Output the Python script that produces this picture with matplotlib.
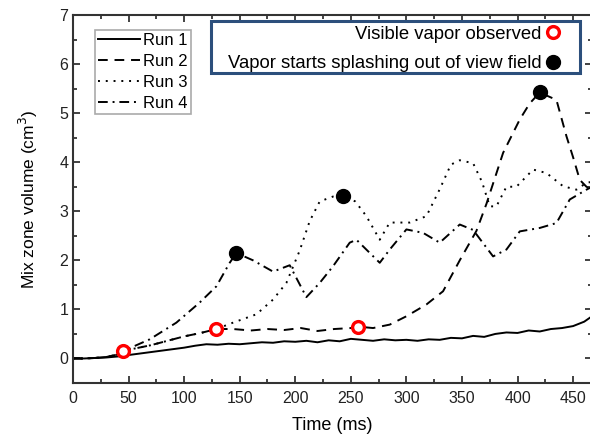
import matplotlib
matplotlib.use('Agg')
import matplotlib.pyplot as plt
from matplotlib.lines import Line2D
from matplotlib.patches import Rectangle
from matplotlib.ticker import MultipleLocator

plt.rcParams['font.family'] = ['Liberation Sans', 'DejaVu Sans']

# Run 1 (solid)
t1 = [0, 10, 20, 30, 40, 50, 60, 70, 80, 90, 100, 110, 120, 130, 140, 150, 160,
      170, 180, 190, 200, 210, 220, 230, 240, 250, 260, 270, 280, 290, 300, 310,
      320, 330, 340, 350, 360, 370, 380, 390, 400, 410, 420, 430, 440, 450, 460, 467]
v1 = [0, 0, 0.01, 0.02, 0.04, 0.07, 0.1, 0.13, 0.16, 0.19, 0.22, 0.26, 0.29, 0.28,
      0.3, 0.29, 0.31, 0.33, 0.32, 0.35, 0.34, 0.36, 0.33, 0.37, 0.35, 0.4, 0.38,
      0.36, 0.39, 0.37, 0.38, 0.36, 0.39, 0.38, 0.42, 0.41, 0.46, 0.44, 0.5, 0.53,
      0.52, 0.57, 0.55, 0.6, 0.62, 0.66, 0.75, 0.86]

# Run 2 (dashed)
t2 = [0, 10, 20, 30, 40, 45, 55, 70, 85, 100, 115, 129, 144, 160, 175, 190, 205,
      220, 235, 250, 256, 270, 285, 300, 318, 333, 348, 363, 372, 387, 402, 411,
      420, 435, 444, 450, 456, 462, 467]
v2 = [0, 0, 0.01, 0.03, 0.08, 0.15, 0.2, 0.27, 0.36, 0.45, 0.52, 0.6, 0.6, 0.57,
      0.6, 0.58, 0.62, 0.56, 0.6, 0.62, 0.65, 0.62, 0.69, 0.86, 1.1, 1.37, 2.0,
      2.6, 3.15, 4.19, 4.87, 5.2, 5.42, 5.27, 4.53, 4.1, 3.64, 3.5, 3.45]

# Run 3 (dotted)
t3 = [0, 10, 20, 30, 40, 45, 55, 70, 85, 100, 115, 129, 144, 165, 180, 192, 204,
      213, 222, 234, 243, 254, 264, 276, 285, 303, 318, 330, 340, 348, 360, 368,
      375, 381, 390, 399, 414, 426, 441, 453, 462, 467]
v3 = [0, 0, 0.01, 0.03, 0.08, 0.15, 0.2, 0.27, 0.36, 0.45, 0.52, 0.6, 0.73, 0.9,
      1.2, 1.54, 2.2, 2.8, 3.2, 3.3, 3.32, 3.2, 2.9, 2.42, 2.77, 2.77, 2.9, 3.45,
      3.95, 4.04, 3.98, 3.6, 3.1, 3.1, 3.5, 3.5, 3.85, 3.78, 3.51, 3.44, 3.58, 3.6]

# Run 4 (dash-dot)
t4 = [0, 10, 20, 30, 40, 45, 69, 93, 114, 129, 141, 147, 162, 180, 195, 210, 222,
      234, 249, 255, 276, 285, 300, 315, 330, 348, 360, 378, 390, 402, 420, 435,
      447, 462, 467]
v4 = [0, 0, 0.01, 0.03, 0.08, 0.15, 0.39, 0.73, 1.14, 1.47, 1.95, 2.15, 2.0, 1.77,
      1.9, 1.25, 1.54, 1.88, 2.36, 2.42, 1.95, 2.22, 2.63, 2.56, 2.36, 2.73, 2.62,
      2.08, 2.22, 2.59, 2.66, 2.76, 3.24, 3.44, 3.5]

# event markers
vapor_t = [44.7, 129, 256]
vapor_v = [0.15, 0.6, 0.65]
splash_t = [147, 243, 420]
splash_v = [2.15, 3.32, 5.43]

fig = plt.figure(figsize=(5.9, 4.41), dpi=100)
ax = fig.add_axes([73 / 590, 58 / 441, 519 / 590, 368 / 441])

lw = 1.4
l1, = ax.plot(t1, v1, color='black', lw=lw, linestyle='-')
l2, = ax.plot(t2, v2, color='black', lw=lw, linestyle=(0, (5, 3.5)))
l3, = ax.plot(t3, v3, color='black', lw=lw, linestyle=(0, (1, 3)))
l4, = ax.plot(t4, v4, color='black', lw=lw, linestyle=(0, (5, 2.5, 1, 2.5)))

ax.plot(vapor_t, vapor_v, 'o', ms=8.5, mfc='white', mec='red', mew=2.4, zorder=5)
ax.plot(splash_t, splash_v, 'o', ms=10, color='black', zorder=5)

ax.set_xlim(0, 467)
ax.set_ylim(-0.5, 7)
ax.xaxis.set_major_locator(MultipleLocator(50))
ax.xaxis.set_minor_locator(MultipleLocator(25))
ax.yaxis.set_major_locator(MultipleLocator(1))
ax.yaxis.set_minor_locator(MultipleLocator(0.5))
ax.tick_params(which='both', direction='in', top=True, right=True, labelsize=11.5,
               width=1.2, colors='#222222')
ax.tick_params(which='major', length=5)
ax.tick_params(axis='x', pad=6)
ax.tick_params(which='minor', length=3)
for s in ax.spines.values():
    s.set_linewidth(1.5)
    s.set_color('#333333')

ax.set_xlabel('Time (ms)', fontsize=13, labelpad=8)
ax.set_ylabel('Mix zone volume (cm$^3$)', fontsize=12.5, labelpad=14)

leg1 = ax.legend([l1, l2, l3, l4], ['Run 1', 'Run 2', 'Run 3', 'Run 4'],
                 loc='upper left', bbox_to_anchor=(0.042, 0.96), fontsize=12,
                 handlelength=2.5, handletextpad=0.2, labelspacing=0.36,
                 borderpad=0.2, borderaxespad=0, fancybox=False, framealpha=1,
                 edgecolor='#aaaaaa')
leg1.get_frame().set_linewidth(1.2)
ax.add_artist(leg1)

# blue frame around the event legend
ax.add_patch(Rectangle((0.266, 0.842), 0.711, 0.142, transform=ax.transAxes,
                       facecolor='white', edgecolor='#2c4f7c', lw=2.2, zorder=6))

h_vapor = Line2D([], [], marker='o', ls='none', ms=8.5, mfc='white', mec='red', mew=2.4)
h_splash = Line2D([], [], marker='o', ls='none', ms=10, color='black')
leg2 = ax.legend([h_vapor, h_splash],
                 ['Visible vapor observed', 'Vapor starts splashing out of view field'],
                 loc='upper right', bbox_to_anchor=(0.942, 0.971), fontsize=13.3,
                 markerfirst=False, handlelength=1.0, handletextpad=0.1,
                 labelspacing=0.68, borderpad=0, borderaxespad=0, frameon=False)
leg2.set_zorder(7)
for txt in leg2.get_texts():
    txt.set_ha('right')

fig.savefig('out.png', dpi=100)
